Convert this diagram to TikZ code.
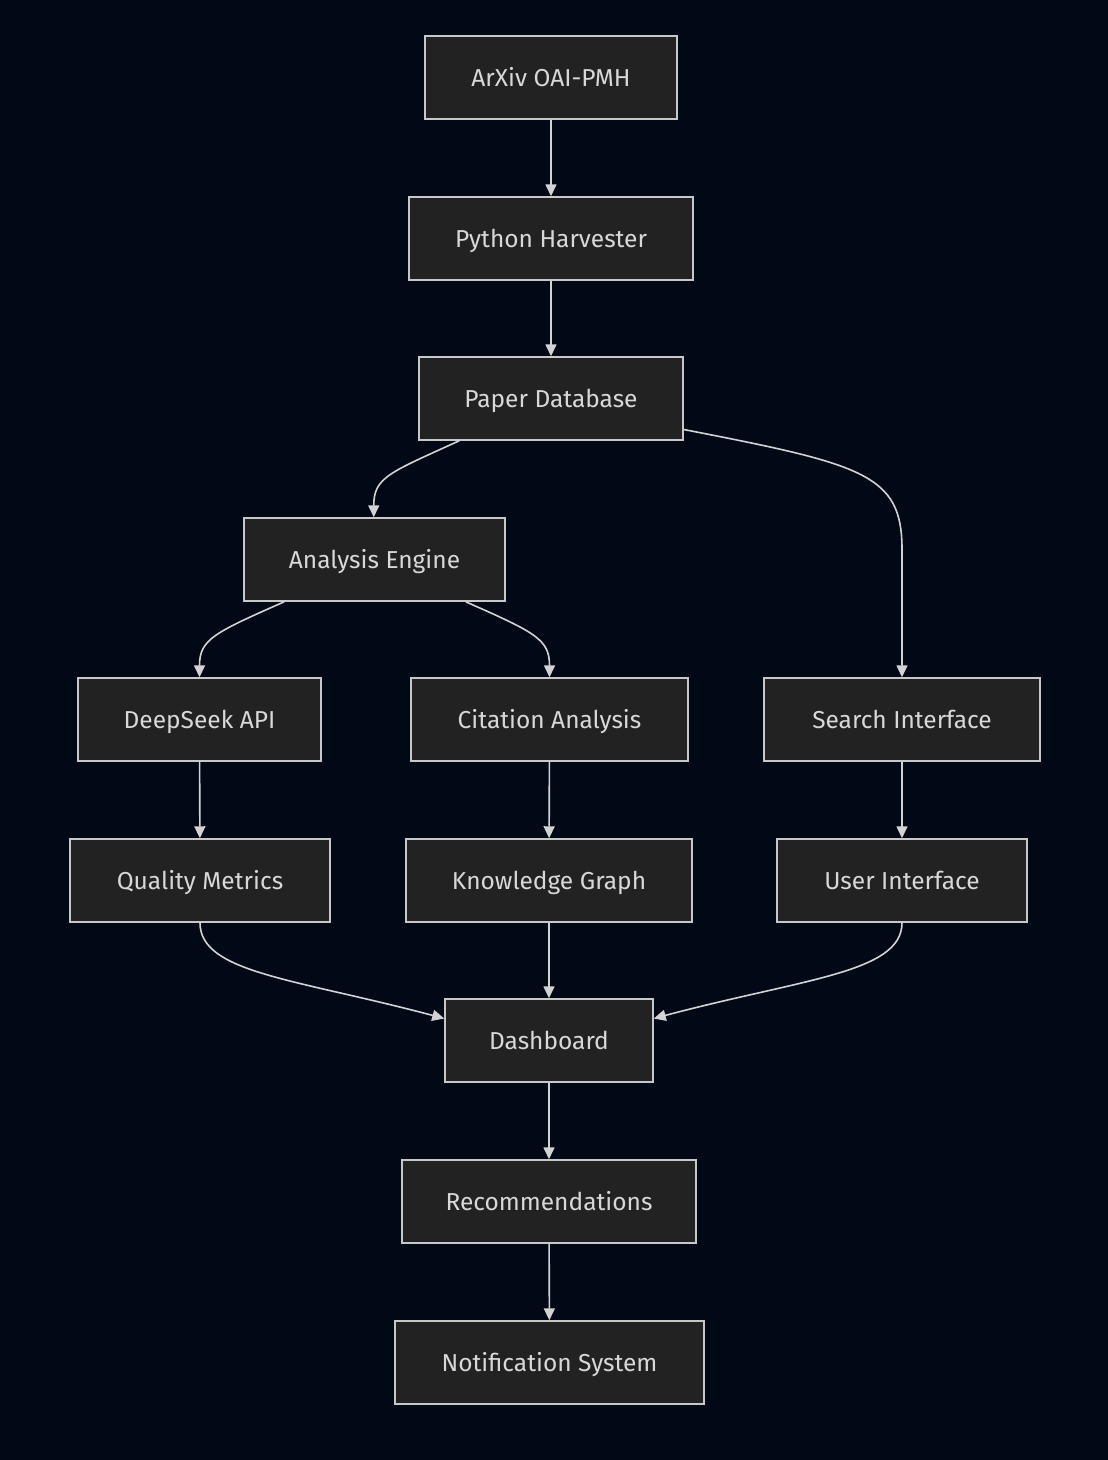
\documentclass[tikz,border=0pt]{standalone}
\usepackage{fontspec}
\setmainfont{Fira Sans}
\usetikzlibrary{arrows.meta}
\definecolor{bg}{HTML}{020916}
\definecolor{boxfill}{HTML}{222222}
\definecolor{boxline}{HTML}{C8C8C8}
\definecolor{txt}{HTML}{D8D8D8}
\definecolor{edge}{HTML}{D3D3D3}
\begin{document}
\begin{tikzpicture}[x=1pt,y=-1pt,
  box/.style={draw=boxline,fill=boxfill,line width=1.5pt,inner sep=0pt,minimum height=83pt,text height=22pt,text depth=5pt,text=txt,font=\fontsize{24.5}{28}\selectfont},
  conn/.style={draw=edge,line width=1.6pt,-{Triangle[length=12pt,width=11pt]}}]
\fill[bg] (0,0) rectangle (1108,1460);
\useasboundingbox (0,0) rectangle (1108,1460);
\node[box,minimum width=252pt] (arxiv) at (551,77.5) {ArXiv OAI-PMH};
\node[box,minimum width=284pt] (harv) at (551,238.5) {Python Harvester};
\node[box,minimum width=264pt] (db) at (551,398.5) {Paper Database};
\node[box,minimum width=261pt] (ana) at (374.5,559.5) {Analysis Engine};
\node[box,minimum width=243pt] (deep) at (199.5,719.5) {DeepSeek API};
\node[box,minimum width=277pt] (cit) at (549.5,719.5) {Citation Analysis};
\node[box,minimum width=276pt] (search) at (902,719.5) {Search Interface};
\node[box,minimum width=260pt] (qual) at (200,880.5) {Quality Metrics};
\node[box,minimum width=286pt] (kg) at (549,880.5) {Knowledge Graph};
\node[box,minimum width=250pt] (ui) at (902,880.5) {User Interface};
\node[box,minimum width=208pt] (dash) at (549,1040.5) {Dashboard};
\node[box,minimum width=294pt] (rec) at (549,1201.5) {Recommendations};
\node[box,minimum width=309pt] (notif) at (549.5,1362.5) {Notification System};

\draw[conn] (arxiv) -- (harv);
\draw[conn] (harv) -- (db);
\draw[conn] ([xshift=41pt]db.south west) .. controls +(-70,32) and +(0,-40) .. ([xshift=130.5pt]ana.north west);
\draw[conn] ([yshift=-31pt]db.east) .. controls +(180,35) and +(0,-75) .. ([yshift=128pt]search.north) -- (search.north);
\draw[conn] ([xshift=41pt]ana.south west) .. controls +(-70,31) and +(0,-38) .. (deep.north);
\draw[conn] ([xshift=-40pt]ana.south east) .. controls +(70,31) and +(0,-38) .. (cit.north);
\draw[conn] (cit) -- (kg);
\draw[conn] (deep) -- (qual);
\draw[conn] (search) -- (ui);
\draw[conn] (qual.south) .. controls +(0,50) and +(-150,-40) .. ([yshift=22pt]dash.west);
\draw[conn] (kg) -- (dash);
\draw[conn] (ui.south) .. controls +(0,50) and +(150,-40) .. ([yshift=22pt]dash.east);
\draw[conn] (dash) -- (rec);
\draw[conn] (rec) -- (notif);
\end{tikzpicture}
\end{document}
